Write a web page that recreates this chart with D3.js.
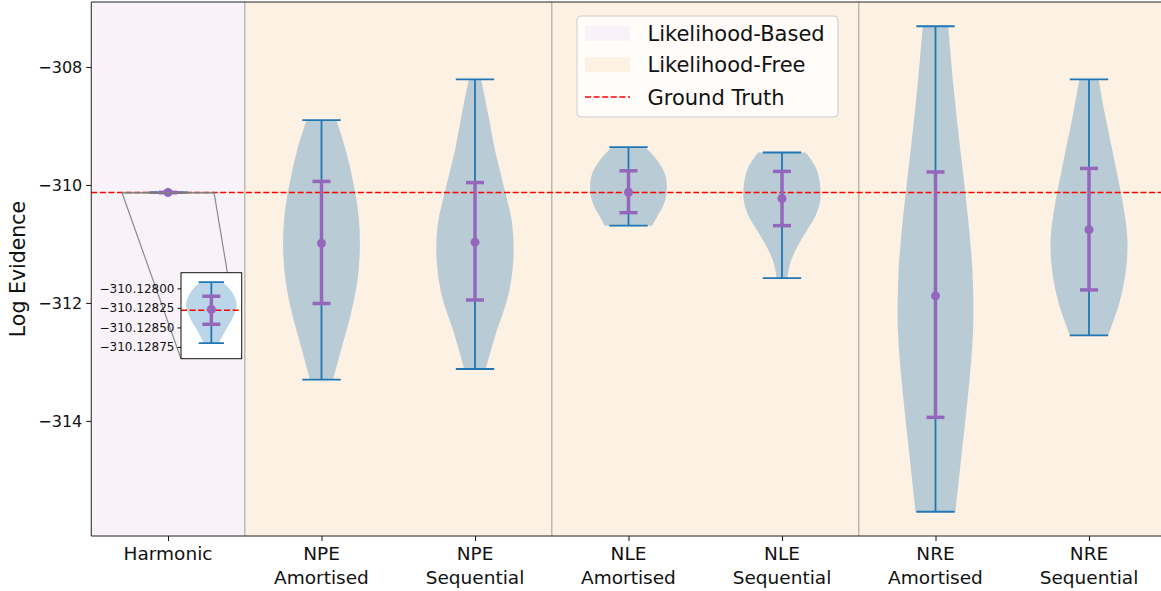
<!DOCTYPE html>
<html><head><meta charset="utf-8">
<script src="https://cdn.jsdelivr.net/npm/d3@7"></script>
<style>
body{margin:0;background:#fff;}
svg{display:block;font-family:"DejaVu Sans",sans-serif;}
</style>
</head><body>
<svg id="chart" width="1161" height="591"></svg>
<script>
// ---------------- data ----------------
const categories = ["Harmonic", "NPE\nAmortised", "NPE\nSequential", "NLE\nAmortised", "NLE\nSequential", "NRE\nAmortised", "NRE\nSequential"];
const means   = [-310.12827, -310.99, -310.97, -310.124, -310.23, -311.88, -310.76];
const errLow  = [-310.12846, -312.01, -311.95, -310.47, -310.69, -313.94, -311.78];
const errHigh = [-310.12810, -309.94, -309.96, -309.76, -309.77, -309.78, -309.72];
const mins    = [-310.12870, -313.30, -313.12, -310.69, -311.58, -315.54, -312.55];
const maxs    = [-310.12792, -308.90, -308.21, -309.36, -309.45, -307.31, -308.21];
// relative violin half-widths, sampled evenly from max (top) to min (bottom)
const shapes = [
  [0.42, 0.75, 0.93, 1.00, 0.93, 0.80, 0.62, 0.45, 0.30],
  [0.39, 0.65, 0.84, 0.97, 1.00, 0.93, 0.76, 0.53, 0.30],
  [0.16, 0.35, 0.53, 0.76, 0.97, 1.00, 0.86, 0.55, 0.28],
  [0.44, 0.68, 0.86, 0.97, 1.00, 0.98, 0.90, 0.76, 0.62],
  [0.62, 0.89, 0.99, 1.00, 0.88, 0.64, 0.40, 0.22, 0.14],
  [0.33, 0.47, 0.64, 0.82, 0.96, 0.98, 0.86, 0.69, 0.52],
  [0.25, 0.40, 0.57, 0.74, 0.90, 1.00, 0.96, 0.79, 0.50]
];
const groundTruth = -310.12828;
const yTickValues = [-314, -312, -310, -308];
const insetTickValues = [-310.12800, -310.12825, -310.12850, -310.12875];
const insetYRange = [-310.12890, -310.12780];
const insetXRange = [-0.3, 0.3];
const regionLabels = ["Likelihood-Based", "Likelihood-Free"];
const regionStarts = [-0.5, 0.5];
const regionEnds = [0.5, 6.5];
const dividers = [0.5, 2.5, 4.5];
const legendLabels = ["Likelihood-Based", "Likelihood-Free", "Ground Truth"];

// ---------------- layout ----------------
const svg = d3.select("#chart");
const L = 91.25, T = 2, R = 1165.75, B = 536;
const regionColors = ["#f9f3f9", "#fdf1e4"];
const blue = "#1f77b4", purple = "#9467bd";

const x = d3.scaleLinear().domain([-0.5, 6.5]).range([L, R]);
const lo = d3.min(mins), hi = d3.max(maxs), pad = (hi - lo) * 0.05;
const y = d3.scaleLinear().domain([lo - pad, hi + pad]).range([B, T]);

// backgrounds
svg.append("g").selectAll("rect").data(regionLabels).join("rect")
  .attr("x", (d, i) => x(regionStarts[i])).attr("y", T)
  .attr("width", (d, i) => x(regionEnds[i]) - x(regionStarts[i]))
  .attr("height", B - T).attr("fill", (d, i) => regionColors[i]);

// dividers
svg.append("g").selectAll("line").data(dividers).join("line")
  .attr("x1", d => x(d)).attr("x2", d => x(d)).attr("y1", T).attr("y2", B)
  .attr("stroke", "#808080").attr("stroke-opacity", 0.5).attr("stroke-width", 1.5);

function drawViolins(g, xs, ys, idxs, hwUnits, capUnits) {
  idxs.forEach(i => {
    const cx = xs(i);
    const hw = xs(hwUnits) - xs(0);
    const n = shapes[i].length;
    const pts = shapes[i].map((w, k) => ({w, v: maxs[i] + (mins[i] - maxs[i]) * k / (n - 1)}));
    const area = d3.area().curve(d3.curveCatmullRom.alpha(0.5))
      .x0(d => cx - d.w * hw).x1(d => cx + d.w * hw).y(d => ys(d.v));
    g.append("path").attr("d", area(pts)).attr("fill", blue).attr("fill-opacity", 0.3);
  });
  idxs.forEach(i => {
    const cx = xs(i), cw = xs(capUnits) - xs(0);
    g.append("line").attr("x1", cx).attr("x2", cx).attr("y1", ys(maxs[i])).attr("y2", ys(mins[i]))
      .attr("stroke", blue).attr("stroke-width", 1.8);
    [maxs[i], mins[i]].forEach(v => g.append("line")
      .attr("x1", cx - cw).attr("x2", cx + cw).attr("y1", ys(v)).attr("y2", ys(v))
      .attr("stroke", blue).attr("stroke-width", 1.8));
  });
}
function drawErrors(g, xs, ys, idxs) {
  idxs.forEach(i => {
    const cx = xs(i), cap = 9;
    g.append("line").attr("x1", cx).attr("x2", cx).attr("y1", ys(errHigh[i])).attr("y2", ys(errLow[i]))
      .attr("stroke", purple).attr("stroke-width", 3.5);
    [errHigh[i], errLow[i]].forEach(v => g.append("line")
      .attr("x1", cx - cap).attr("x2", cx + cap).attr("y1", ys(v)).attr("y2", ys(v))
      .attr("stroke", purple).attr("stroke-width", 3.5));
    g.append("circle").attr("cx", cx).attr("cy", ys(means[i])).attr("r", 4.5).attr("fill", purple);
  });
}

const idxAll = d3.range(categories.length);
const gMain = svg.append("g");
drawViolins(gMain, x, y, idxAll, 0.25, 0.125);

// ground truth
svg.append("line").attr("x1", L).attr("x2", R).attr("y1", y(groundTruth)).attr("y2", y(groundTruth))
  .attr("stroke", "red").attr("stroke-width", 1.6).attr("stroke-dasharray", "6,2.6");

drawErrors(svg.append("g"), x, y, idxAll);

// ---------------- inset ----------------
const IX0 = 181, IX1 = 241.7, IY0 = 272.7, IY1 = 358.7;
const ix = d3.scaleLinear().domain(insetXRange).range([IX0, IX1]);
const iy = d3.scaleLinear().domain(insetYRange).range([IY1, IY0]);
const ixc = v => ix(v); // category 0 is at 0

// zoom indicator
const gz = svg.append("g").attr("stroke", "#808080").attr("stroke-width", 1.2).attr("fill", "none").attr("stroke-opacity", 0.9);
gz.append("rect").attr("x", x(insetXRange[0])).attr("y", y(insetYRange[1]))
  .attr("width", x(insetXRange[1]) - x(insetXRange[0]))
  .attr("height", Math.max(0.5, y(insetYRange[0]) - y(insetYRange[1])));
gz.append("line").attr("x1", x(insetXRange[0])).attr("y1", y(insetYRange[0])).attr("x2", IX0).attr("y2", IY1);
gz.append("line").attr("x1", x(insetXRange[1])).attr("y1", y(insetYRange[0])).attr("x2", IX1).attr("y2", IY1);

svg.append("defs").append("clipPath").attr("id", "insetClip")
  .append("rect").attr("x", IX0).attr("y", IY0).attr("width", IX1 - IX0).attr("height", IY1 - IY0);
svg.append("rect").attr("x", IX0).attr("y", IY0).attr("width", IX1 - IX0).attr("height", IY1 - IY0).attr("fill", "#fff");
const gIn = svg.append("g").attr("clip-path", "url(#insetClip)");
drawViolins(gIn, ixc, iy, [0], 0.25, 0.125);
gIn.append("line").attr("x1", IX0).attr("x2", IX1).attr("y1", iy(groundTruth)).attr("y2", iy(groundTruth))
  .attr("stroke", "red").attr("stroke-width", 1.6).attr("stroke-dasharray", "6,2.6");
drawErrors(gIn, ixc, iy, [0]);
svg.append("rect").attr("x", IX0).attr("y", IY0).attr("width", IX1 - IX0).attr("height", IY1 - IY0)
  .attr("fill", "none").attr("stroke", "#111").attr("stroke-width", 1);
const insetAxis = svg.append("g").attr("transform", `translate(${IX0},0)`)
  .call(d3.axisLeft(iy).tickValues(insetTickValues).tickFormat(d3.format(".5f")).tickSize(3.5).tickPadding(3));
insetAxis.select(".domain").remove();
insetAxis.selectAll("text").attr("font-size", 12).attr("fill", "#111").attr("font-family", "DejaVu Sans");
insetAxis.selectAll("line").attr("stroke", "#111");

// ---------------- axes ----------------
const yAxis = svg.append("g").attr("transform", `translate(${L},0)`)
  .call(d3.axisLeft(y).tickValues(yTickValues).tickFormat(d3.format("d")).tickSize(5).tickPadding(4));
yAxis.select(".domain").remove();
yAxis.selectAll("text").attr("font-size", 16).attr("fill", "#111").attr("font-family", "DejaVu Sans");
yAxis.selectAll("line").attr("stroke", "#111");

const xAxis = svg.append("g").attr("transform", `translate(0,${B})`)
  .call(d3.axisBottom(x).tickValues(idxAll).tickFormat(() => "").tickSize(5));
xAxis.select(".domain").remove();
xAxis.selectAll("line").attr("stroke", "#111");
const xl = svg.append("g");
categories.forEach((c, i) => {
  const t = xl.append("text").attr("x", x(i)).attr("y", 560).attr("text-anchor", "middle")
    .attr("font-size", 18.5).attr("fill", "#111");
  c.split("\n").forEach((line, k) => t.append("tspan").attr("x", x(i)).attr("dy", k === 0 ? 0 : 23.5).text(line));
});

// spines
const sp = svg.append("g").attr("stroke", "#222").attr("stroke-width", 1).attr("fill", "none");
sp.append("line").attr("x1", L).attr("x2", L).attr("y1", T).attr("y2", B);
sp.append("line").attr("x1", L).attr("x2", R).attr("y1", B).attr("y2", B);
sp.append("line").attr("x1", L).attr("x2", R).attr("y1", T).attr("y2", T);
sp.append("line").attr("x1", R).attr("x2", R).attr("y1", T).attr("y2", B);

svg.append("text").attr("transform", `translate(25,${(T + B) / 2}) rotate(-90)`)
  .attr("text-anchor", "middle").attr("font-size", 20.5).attr("fill", "#111").text("Log Evidence");

// ---------------- legend ----------------
const lg = svg.append("g");
lg.append("rect").attr("x", 577).attr("y", 16).attr("width", 261).attr("height", 101).attr("rx", 4)
  .attr("fill", "#fff").attr("fill-opacity", 0.8).attr("stroke", "#cccccc").attr("stroke-width", 1);
const rowY = [33.5, 64.8, 97];
legendLabels.forEach((lab, i) => {
  if (i < 2) {
    lg.append("rect").attr("x", 585).attr("y", rowY[i] - 7.5).attr("width", 45).attr("height", 15)
      .attr("fill", regionColors[i]);
  } else {
    lg.append("line").attr("x1", 585).attr("x2", 630).attr("y1", rowY[i]).attr("y2", rowY[i])
      .attr("stroke", "red").attr("stroke-width", 1.6).attr("stroke-dasharray", "6,2.6");
  }
  lg.append("text").attr("x", 647.5).attr("y", rowY[i]).attr("dy", "0.36em")
    .attr("font-size", 21).attr("fill", "#111").text(lab);
});
</script>
</body></html>
